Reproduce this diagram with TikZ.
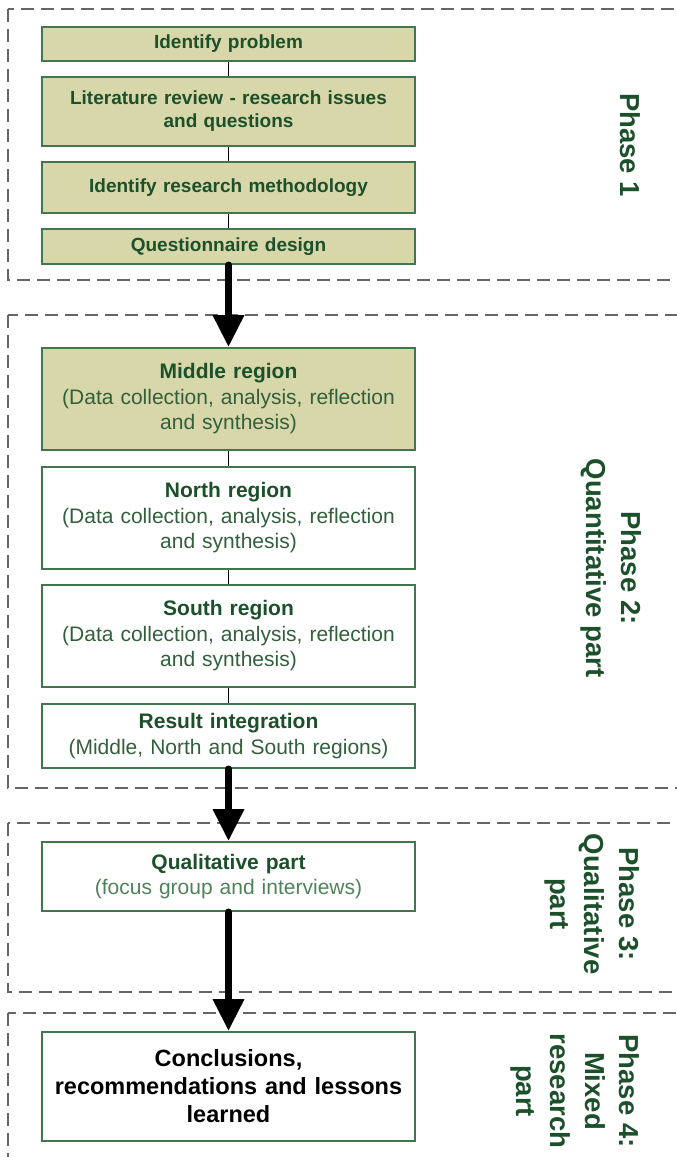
\documentclass[tikz,border=0pt]{standalone}
\usepackage{fontspec}
\setmainfont{Liberation Sans}
\usetikzlibrary{positioning,arrows.meta}
\definecolor{mygreen}{RGB}{28,80,42}
\definecolor{myline}{RGB}{65,118,78}
\definecolor{mykhaki}{RGB}{215,215,170}
\definecolor{mysub}{RGB}{50,95,60}
\definecolor{mylight}{RGB}{80,130,90}
\colorlet{mygray}{black!60}

\begin{document}
\begin{tikzpicture}[x=1pt,y=-1pt]
\tikzset{PhaseStyle/.style={draw=mygray,line width=2.5pt,dash pattern=on 13pt off 7pt}}
\tikzset{BoxStyle/.style={draw=myline,line width=2pt,text width=360pt,minimum width=373pt,
  align=center,inner sep=0pt,text=mygreen,font=\fontsize{21}{25.5}\selectfont}}
\tikzset{KhakiStyle/.style={BoxStyle,fill=mykhaki}}
\tikzset{FirstStyle/.style={KhakiStyle,font=\fontsize{19}{23}\selectfont\bfseries}}
\tikzset{LinkStyle/.style={black,line width=1.5pt}}
\tikzset{ArrowStyle/.style={black,line width=7pt,line cap=round,-{Triangle[width=30pt,length=32pt]}}}
\tikzset{LabelStyle/.style={rotate=-90,align=center,text=mygreen,font=\fontsize{27.5}{34.5}\selectfont\bfseries}}
\useasboundingbox (0,0) rectangle (677,1157);
\clip (0,0) rectangle (677,1157);
% phases
\draw[PhaseStyle] (8,9) rectangle (720,280);
\draw[PhaseStyle] (8,315) rectangle (720,788);
\draw[PhaseStyle] (8,823) rectangle (720,992);
\draw[PhaseStyle] (8,1013) rectangle (720,1175);
% phase 1
\node[FirstStyle,minimum height=34pt] (prob) at (228.5,44) {Identify problem};
\node[FirstStyle,minimum height=69pt,below=14pt of prob] (lit) {Literature review - research issues\\and questions};
\node[FirstStyle,minimum height=51pt,below=14pt of lit] (meth) {Identify research methodology};
\node[FirstStyle,minimum height=35pt,below=14pt of meth] (quest) {Questionnaire design};
% phase 2
\node[KhakiStyle,minimum height=102pt,below=82pt of quest] (mid) {\textbf{Middle region}\\
  \color{mysub}(Data collection, analysis, reflection\\and synthesis)};
\node[BoxStyle,minimum height=102pt,below=15pt of mid] (north) {\textbf{North region}\\
  \color{mysub}(Data collection, analysis, reflection\\and synthesis)};
\node[BoxStyle,minimum height=102pt,below=14pt of north] (south) {\textbf{South region}\\
  \color{mysub}(Data collection, analysis, reflection\\and synthesis)};
\node[BoxStyle,minimum height=64pt,below=15pt of south] (result) {\textbf{Result integration}\\
  \color{mysub}(Middle, North and South regions)};
% phase 3 and 4
\node[BoxStyle,minimum height=69pt,below=72pt of result] (qual) {\textbf{Qualitative part}\\
  \color{mylight}(focus group and interviews)};
\node[BoxStyle,minimum height=109pt,below=119pt of qual,text=black,
  font=\fontsize{23.5}{28}\selectfont\bfseries] (concl) {Conclusions,\\recommendations and lessons\\learned};
\draw[LinkStyle] (prob) -- (lit);
\draw[LinkStyle] (lit) -- (meth);
\draw[LinkStyle] (meth) -- (quest);
\draw[LinkStyle] (mid) -- (north);
\draw[LinkStyle] (north) -- (south);
\draw[LinkStyle] (south) -- (result);
\draw[ArrowStyle] (quest.south) -- (mid.north);
\draw[ArrowStyle] (result.south) -- (qual.north);
\draw[ArrowStyle] (qual.south) -- (concl.north);
% labels
\node[LabelStyle] (ph1) at (630,145) {Phase 1};
\node[LabelStyle] (ph2) at (611,568) {Phase 2:\\Quantitative part};
\node[LabelStyle] (ph3) at (592,904) {Phase 3:\\Qualitative\\part};
\node[LabelStyle] (ph4) at (575,1091) {Phase 4:\\Mixed\\research\\part};
\end{tikzpicture}
\end{document}
